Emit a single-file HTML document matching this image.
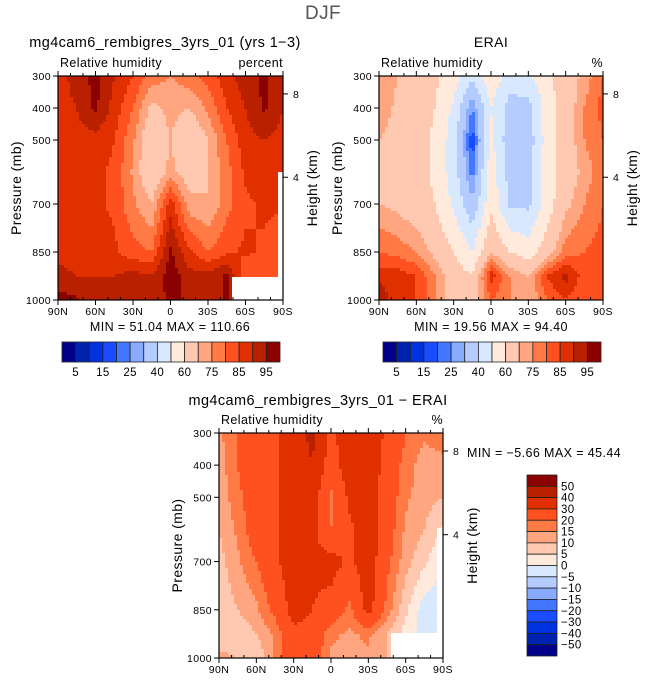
<!DOCTYPE html>
<html><head><meta charset="utf-8">
<style>
body{margin:0;background:#fff;}
svg{display:block;font-family:"Liberation Sans",sans-serif;}
text{fill:#000;letter-spacing:0.4px;}
</style></head>
<body>
<svg id="c" width="647" height="682" xmlns="http://www.w3.org/2000/svg">
<text x="323" y="19" font-size="19" text-anchor="middle" style="fill:#555">DJF</text>
</svg>
<script>
// ---- data ----
const latLabels = ["90N","60N","30N","0","30S","60S","90S"];
const pressureTicks = [300,400,500,700,850,1000];
const heightTicks = [8,4];
const gridLats = [90,75,60,45,30,15,0,-15,-30,-45,-60,-75,-90];
const gridLevels = [300,400,500,600,700,850,925,1000];
const modelRH = [
 [88,92,97,90,85,78,75,78,82,88,93,96,92],
 [88,90,96,88,80,68,72,70,76,85,90,96,90],
 [88,88,88,85,76,63,70,63,70,80,88,90,88],
 [86,86,86,84,74,63,72,66,70,78,86,88,86],
 [86,85,86,84,76,70,88,72,70,78,84,86,86],
 [88,87,88,86,82,80,96,86,80,84,86,84,80],
 [92,90,90,90,92,90,98,92,92,96,80,80,80],
 [97,96,90,90,90,92,96,94,92,96,80,80,80]];
const eraiRH = [
 [75,70,65,62,55,42,58,45,48,58,65,72,80],
 [75,68,65,60,48,24,50,36,36,55,65,75,82],
 [70,66,65,58,45,16,52,34,34,55,65,75,80],
 [68,66,64,58,45,22,56,36,36,55,65,72,78],
 [70,68,65,60,48,32,58,38,38,55,68,75,80],
 [80,78,75,68,60,50,70,60,55,65,78,80,82],
 [88,88,85,75,65,60,88,75,70,85,92,82,85],
 [95,85,85,75,65,65,80,75,70,80,85,80,85]];
const diffRH = [
 [14,20,28,28,36,42,28,36,38,28,20,16,20],
 [12,20,28,28,36,40,25,36,38,25,18,12,12],
 [12,18,25,28,36,35,18,32,36,25,16,12,10],
 [10,16,25,28,36,33,20,28,36,24,14,10,4],
 [8,14,20,28,36,32,34,28,36,22,12,6,0],
 [6,10,14,22,34,30,26,18,34,18,6,-3,-3],
 [5,6,10,16,28,26,16,14,16,10,3,-3,-3],
 [12,10,5,16,28,26,14,14,14,10,3,-3,-3]];
const absLevels = [5,10,15,20,25,30,40,50,60,70,75,80,85,90,95];
const absLabels = ["5","15","25","40","60","75","85","95"];
const diffLevels = [-50,-40,-30,-20,-15,-10,-5,0,5,10,15,20,30,40,50];
const diffLabels = ["50","40","30","20","15","10","5","0","\u22125","\u221210","\u221215","\u221220","\u221230","\u221240","\u221250"];
const palette = ["#00008a","#0022b0","#0033e0","#1a4cff","#4477ff","#88aaff","#b4ccff","#d8e8ff","#ffeadc","#ffc8b0","#ffa580","#ff7a45","#ff5020","#e03000","#b82000","#8b0000"];

const S = document.getElementById('c');
const NS = "http://www.w3.org/2000/svg";
function mk(tag, at, parent){const e=document.createElementNS(NS,tag);for(const k in at)e.setAttribute(k,at[k]);(parent||S).appendChild(e);return e;}
function txt(x,y,s,size,anchor,parent){const t=mk('text',{x:x,y:y,'font-size':size,'text-anchor':anchor||'start'},parent);t.textContent=s;return t;}
function colorIdx(v,levels){let i=0;while(i<levels.length&&v>=levels[i])i++;return i;}
function kmToP(km){return 1013.25*Math.pow(1-2.25577e-5*km*1000,5.25588);}
function sample(grid,lat,p){
  let j=0;while(j<gridLats.length-2&&lat<gridLats[j+1])j++;
  let i=0;while(i<gridLevels.length-2&&p>gridLevels[i+1])i++;
  const fx=(gridLats[j]-lat)/(gridLats[j]-gridLats[j+1]);
  const fy=(p-gridLevels[i])/(gridLevels[i+1]-gridLevels[i]);
  const a=grid[i][j],b=grid[i][j+1],c=grid[i+1][j],d=grid[i+1][j+1];
  return (a*(1-fx)+b*fx)*(1-fy)+(c*(1-fx)+d*fx)*fy;
}
function panel(name,x0,y0,w,h,grid,levels,unit,missing){
  const g=mk('g',{});
  
  
  const xOf=lat=>x0+(90-lat)/180*w;
  const yOf=p=>y0+(p-300)/700*h;
  const step=3;
  const cells=mk('g',{'shape-rendering':'crispEdges'},g);
  
  
  for(let px=0;px<w;px+=step){for(let py=0;py<h;py+=step){
    const lat=90-(px+step/2)/w*180, p=300+(py+step/2)/h*700;
    const v=sample(grid,lat,p);
    const r=mk('rect',{x:x0+px,y:y0+py,width:Math.min(step,w-px)+0.5,height:Math.min(step,h-py)+0.5,fill:palette[colorIdx(v,levels)]},cells);
    
    
  }}
  missing.forEach(m=>{const r=mk('rect',{x:m[0],y:m[1],width:m[2],height:m[3],fill:'#fff'},g);
    
    });
  const fr=mk('rect',{x:x0,y:y0,width:w,height:h,fill:'none',stroke:'#000','stroke-width':1.2},g);
  
  
  for(let lat=90;lat>=-90;lat-=10){const x=xOf(lat);const major=lat%30===0;
    mk('line',{x1:x,x2:x,y1:y0+h,y2:y0+h+(major?5:-3),stroke:'#000'},g);
    mk('line',{x1:x,x2:x,y1:y0,y2:y0-(major?5:3),stroke:'#000'},g);}
  latLabels.forEach((s,k)=>{const t=txt(xOf(90-30*k),y0+h+15,s,10.5,'middle',g);
    
    });
  pressureTicks.forEach(p=>{const y=yOf(p);mk('line',{x1:x0-5,x2:x0,y1:y,y2:y,stroke:'#000'},g);
    const t=txt(x0-7,y+4,String(p),10.5,'end',g);
    
    });
  heightTicks.forEach(km=>{const y=yOf(kmToP(km));
    mk('line',{x1:x0+w,x2:x0+w+5,y1:y,y2:y,stroke:'#000'},g);
    const t=txt(x0+w+10,y+4,String(km),10.5,'start',g);
    
    });
  const yl=txt(0,0,'Pressure (mb)',14,'middle',g);
  yl.setAttribute('transform','translate('+(x0-37)+','+(y0+h/2)+') rotate(-90)');
  
  
  const hl=txt(0,0,'Height (km)',14,'middle',g);
  hl.setAttribute('transform','translate('+(x0+w+34)+','+(y0+h/2)+') rotate(-90)');
  
  
  const st=txt(x0+2,y0-9,'Relative humidity',12.5,'start',g);
  
  
  const un=txt(x0+w,y0-9,unit,12.5,'end',g);
  
  
}
// Panel 1
panel('model-panel',58,76,225,224,modelRH,absLevels,'percent',[[232,277,52,24],[278,172,6,110]]);
let t=txt(165,47,'mg4cam6_rembigres_3yrs_01 (yrs 1\u22123)',14.5,'middle');


t=txt(170,331,'MIN  =   51.04   MAX  =  110.66',12.5,'middle');


// Panel 2
panel('erai-panel',379,76,224,224,eraiRH,absLevels,'%',[]);
t=txt(491,47,'ERAI',14,'middle');


t=txt(491,331,'MIN  =   19.56   MAX  =   94.40',12.5,'middle');


// Panel 3
panel('diff-panel',219,433,224,225,diffRH,diffLevels,'%',[[391,633,46,26],[437,528,6,131]]);
t=txt(318,405,'mg4cam6_rembigres_3yrs_01  \u2212  ERAI',14.5,'middle');


t=txt(467,457,'MIN  =   \u22125.66   MAX  =   45.44',12.5,'start');


// horizontal colorbars
function hbar(name,x0,y0,w,h){
  const g=mk('g',{});
  
  
  const bw=w/palette.length;
  palette.forEach((c,i)=>{const r=mk('rect',{x:x0+i*bw,y:y0,width:bw,height:h,fill:c,stroke:'#222','stroke-width':0.8},g);
    
    });
  absLabels.forEach((s,k)=>{const tt=txt(x0+(2*k+1)*bw,y0+h+14,s,11.5,'middle',g);
    
    });
}
hbar('model-colorbar',62,342,218,20);
hbar('erai-colorbar',383,342,218,20);
// vertical colorbar
(function(){
  const g=mk('g',{});
  
  
  const x0=527,y0=475,w=30,h=181,bh=h/palette.length;
  palette.slice().reverse().forEach((c,i)=>{const r=mk('rect',{x:x0,y:y0+i*bh,width:w,height:bh,fill:c,stroke:'#222','stroke-width':0.8},g);
    
    });
  diffLabels.forEach((s,k)=>{const tt=txt(x0+w+4,y0+(k+1)*bh+4,s,11.5,'start',g);
    
    });
})();
</script>
</body></html>
